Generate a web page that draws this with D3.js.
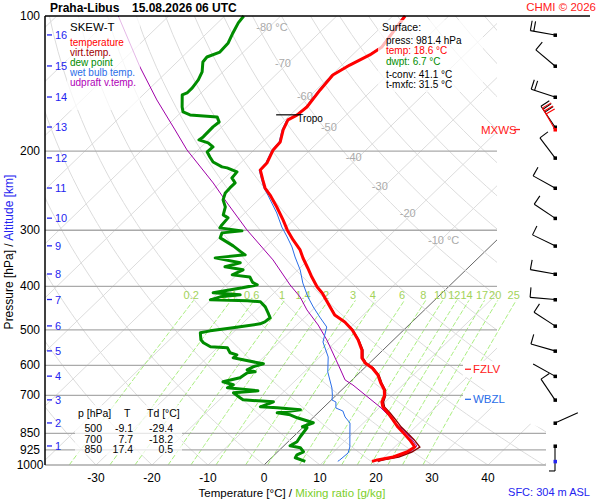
<!DOCTYPE html>
<html><head><meta charset="utf-8">
<script src="https://cdn.jsdelivr.net/npm/d3@7"></script>
<style>body{margin:0;background:#fff} svg{font-family:"Liberation Sans",Arial,sans-serif;display:block}</style>
</head><body><svg id="c" width="600" height="500"></svg>
<script>
// ---------- data ----------
const pressureTicks = [100,200,300,400,500,600,700,850,925,1000];
const tempTicks = [-30,-20,-10,0,10,20,30,40];
const altKm = [16,15,14,13,12,11,10,9,8,7,6,5,4,3,2,1];
const altP  = [110.2,129.2,151.5,176.7,207,241.6,282,325,375.5,428,490,557,634,716,806,907];
const mixW = [0.2,0.4,0.6,1,1.4,2,3,4,6,8,10,12,14,17,20,25];
const isoLabelT = [-80,-70,-60,-50,-40,-30,-20,-10];
const isoLabelP = [105.8,127.3,150.7,176.6,206.0,239.0,274.6,315.2];

const tempP = [100,117.2,122.1,128.6,135.3,146.1,159.5,166.2,170.4,179.4,190.8,198.7,212.5,220.2,231.8,241.6,250.5,266.3,284.5,299.5,315.3,331.9,345.9,364.1,381.4,401.4,413.9,444.7,463.4,480.3,500.2,526.5,554.2,577.6,592.6,608.1,630.3,656.8,680.4,700.7,723.9,742.7,765.7,793.6,823.2,850,879.3,911.8,935.5,959.8,974.3,981.4];
const tempT = [-57.8,-56.2,-56.9,-58.6,-59.8,-59.3,-58.5,-58.8,-59.5,-58.5,-56.8,-56.6,-55.3,-55.2,-52.9,-51.0,-48.8,-45.4,-41.9,-39.3,-36.4,-33.3,-31.3,-28.6,-26.2,-23.4,-21.4,-17.4,-15.1,-12.0,-9.2,-6.3,-3.8,-2.3,-0.8,1.4,3.7,5.7,7.6,8.7,9.4,10.5,12.5,14.7,16.9,19.1,21.4,23.6,23.1,21.6,19.3,18.6];
const virtT = [-57.8,-56.2,-56.9,-58.6,-59.8,-59.3,-58.5,-58.8,-59.5,-58.5,-56.8,-56.6,-55.3,-55.2,-52.9,-51.0,-48.8,-45.4,-41.9,-39.3,-36.4,-33.3,-31.3,-28.6,-26.2,-23.4,-21.4,-17.3,-15.0,-11.9,-9.1,-6.2,-3.6,-2.1,-0.6,1.6,3.9,5.9,7.8,8.9,9.7,10.8,12.9,15.2,17.5,19.8,22.2,24.5,24.0,22.6,20.4,19.7];

const dewP = [100,103.6,109.1,114.8,120.3,123.4,126.6,133.2,138.8,144.6,148.4,149.9,159.4,163.6,166.1,167.8,172.2,176.6,185.9,188.8,191.7,195.7,200.8,206.0,211.4,216.8,217.9,222.4,229.4,235.3,241.5,247.8,256.8,266.2,277.3,281.6,291.9,296.4,301.0,304.1,312.0,325.1,335.2,340.4,345.7,354.6,361.9,367.6,377.2,381.1,391.9,397.0,403.1,413.6,417.9,422.2,428.7,430.9,433.1,444.4,458.2,470.1,480.0,484.8,494.8,502.6,507.7,526.3,534.4,545.5,548.3,562.5,568.4,577.2,583.1,595.2,604.4,613.8,620.1,623.3,639.4,652.7,662.8,673.0,683.5,690.6,708.4,715.8,723.1,742.0,745.8,753.4,765.0,773.0,785.0,805.3,822.0,826.2,865.2,887.7,906.1,915.3,934.4,948.9,963.5,981.4];
const dewT = [-86.6,-86.3,-85.4,-84.4,-84.2,-85.6,-85.4,-83.7,-82.9,-82.5,-82.5,-83.0,-80.8,-79.7,-77.9,-72.7,-71.4,-71.6,-71.5,-71.7,-69.5,-67.9,-68.0,-66.6,-65.1,-62.6,-61.5,-59.0,-58.8,-57.3,-57.3,-57.2,-56.3,-54.6,-53.5,-52.1,-51.9,-51.7,-47.2,-50.4,-49.8,-46.0,-43.5,-42.2,-47.0,-41.6,-43.6,-39.8,-40.8,-37.3,-35.8,-34.5,-36.6,-40.9,-35.7,-38.9,-40.1,-33.3,-30.8,-29.0,-27.4,-26.1,-26.3,-26.8,-30.9,-34.4,-35.8,-34.4,-33.4,-31.4,-28.2,-26.8,-25.2,-25.3,-23.2,-18.8,-20.1,-20.6,-18.8,-20.0,-20.4,-22.7,-20.3,-20.8,-14.8,-18.8,-16.7,-15.8,-10.0,-11.4,-8.2,-3.7,-7.3,-4.6,-2.8,1.0,-0.2,0.8,1.25,1.6,1.1,3.3,4.6,4.0,4.25,6.7];

const wetP = [100,117.2,122.1,128.6,135.3,146.1,159.5,166.2,170.4,179.4,190.8,198.7,212.5,220.2,231.8,241.6,250.5,274.6,295.1,310.6,326.9,344.1,367.7,393.3,422.5,444.7,468.2,492.8,532.2,574.7,620.7,673.8,700.7,716.3,723.9,746.5,758.1,781.6,806.4,857.6,911.8,940.3,974.3,981.4];
const wetT = [-58.0,-56.4,-57.1,-58.8,-60.0,-59.5,-58.7,-59.0,-59.7,-58.7,-57.0,-56.8,-55.5,-55.4,-53.1,-51.2,-49.2,-44.3,-40.8,-38.0,-35.3,-32.9,-29.6,-26.7,-23.2,-20.4,-17.4,-14.3,-12.2,-8.5,-5.8,-2.1,-0.6,0.1,1.2,2.3,4.1,5.6,7.6,9.8,12.0,12.8,12.6,12.5];

const parcelP = [100,129.9,153.8,179.4,198.7,235.4,260.9,299.5,349.3,397.3,422.5,451.4,487.8,526.5,563.1,608.1,646.4,663.5,700.7,742.7,781.6,806.4,835.4,866.5,907.2,935.5,959.8,979.7];
const parcelT = [-109.0,-95.7,-86.6,-77.8,-72.0,-61.2,-55.0,-46.5,-36.3,-28.6,-24.6,-21.0,-16.2,-11.9,-8.4,-4.4,-1.25,1.1,5.4,10.0,13.6,15.6,18.4,20.9,23.8,23.7,22.1,19.6];

const windDir = [280,310,288,326,323,299,304,296,280,275,303,286,299,326,66,180];
const windSpd = [20,10,20,30,10,10,10,10,10,10,10,10,3,10,3,5];
const mxwsP = 179, mxwsDir = 330, mxwsSpd = 30;
const fzlvP = 612, wbzlP = 714;
const tropoP = 166, tropoT = -58.8;
const sfcP = 981.4;

const tableHead = ["p [hPa]","T","Td [°C]"];
const tableP  = ["500","700","850"];
const tableT  = ["-9.1","7.7","17.4"];
const tableTd = ["-29.4","-18.2","0.5"];
const sfcLines = ["press: 981.4 hPa","temp: 18.6 °C","dwpt: 6.7 °C","t-conv: 41.1 °C","t-mxfc: 31.5 °C"];

// ---------- scales ----------
const svg = d3.select('#c');
const y = d3.scaleLog().domain([100,1000]).range([16,465]);
const xs = d3.scaleLinear().domain([-40,50]).range([40,544]);
const SK = 1.035;
const X = (T,p) => xs(T) + SK*(y(1000)-y(p));

const defs = svg.append('defs');
defs.append('clipPath').attr('id','gc').append('polygon')
  .attr('points','45,16 497,16 497,410 546,430 546,465 45,465');
defs.append('clipPath').attr('id','rc').append('rect')
  .attr('x',45).attr('y',16).attr('width',501).attr('height',449);

const grid = svg.append('g').attr('clip-path','url(#gc)');
// isotherms
d3.range(-130,60,10).forEach(T=>{
  grid.append('line').attr('x1',X(T,1000)).attr('y1',y(1000)).attr('x2',X(T,100)).attr('y2',y(100))
    .attr('stroke', T===0 ? '#666' : '#dcdcdc').attr('stroke-width',1);
});
// dry adiabats
const pLevels = d3.range(1000,95,-10);
const adLine = d3.line().x(d=>d[0]).y(d=>d[1]);
d3.range(-40,190,10).forEach(th=>{
  const pts = pLevels.map(p=>{const T=(th+273.15)*Math.pow(p/1000,0.2857)-273.15; return [X(T,p),y(p)];});
  grid.append('path').attr('d',adLine(pts)).attr('fill','none').attr('stroke','#dcdcdc').attr('stroke-width',1);
});
// mixing ratio lines
const mixG = svg.append('g').attr('clip-path','url(#rc)');
const mrT = (w,p)=>{const e=w*p/(622+w); const l=Math.log(e/6.112); return 243.5*l/(17.67-l);};
mixW.forEach(w=>{
  const pts = d3.range(1000,429,-5).map(p=>[X(mrT(w,p),p),y(p)]);
  mixG.append('path').attr('d',adLine(pts)).attr('fill','none').attr('stroke','#a6ee7a')
    .attr('stroke-width',1).attr('stroke-dasharray','5,2');
  svg.append('text').attr('x',X(mrT(w,428),428)-3).attr('y',299).attr('text-anchor','middle')
    .attr('font-size',11).attr('fill','#a3d35a').text(w);
});
// isobars
pressureTicks.filter(p=>p>100).forEach(p=>{
  svg.append('line').attr('x1',45).attr('x2',p>=850?546:497).attr('y1',y(p)).attr('y2',y(p))
    .attr('stroke','#aaa').attr('stroke-width',1.3);
});
// isotherm labels
isoLabelT.forEach((T,i)=>{
  const p=isoLabelP[i];
  svg.append('text').attr('x',X(T,p)-13).attr('y',y(p)+4).attr('font-size',11).attr('fill','#aaa')
    .text(T + ((i===0||i===isoLabelT.length-1)?' °C':''));
});

// ---------- profiles ----------
const prof = (P,T) => P.map((p,i)=>({p:p,T:T[i]}));
const line = d3.line().x(d=>X(d.T,d.p)).y(d=>y(d.p));
svg.append('path').attr('d',line(prof(parcelP,parcelT))).attr('fill','none').attr('stroke','#a000a8').attr('stroke-width',1);
svg.append('path').attr('d',line(prof(tempP,virtT))).attr('fill','none').attr('stroke','#8b0000').attr('stroke-width',1.4);
svg.append('path').attr('d',line(prof(wetP,wetT))).attr('fill','none').attr('stroke','#2a6ee8').attr('stroke-width',1);
svg.append('path').attr('d',line(prof(dewP,dewT))).attr('fill','none').attr('stroke','#008c00').attr('stroke-width',3).attr('stroke-linejoin','round');
svg.append('path').attr('d',line(prof(tempP,tempT))).attr('fill','none').attr('stroke','#ff0000').attr('stroke-width',3).attr('stroke-linejoin','round');

// tropopause
const tx = X(tropoT,tropoP);
svg.append('line').attr('x1',tx-21).attr('x2',tx+3).attr('y1',y(tropoP)).attr('y2',y(tropoP)).attr('stroke','#000').attr('stroke-width',1.2);
svg.append('text').attr('x',tx).attr('y',y(tropoP)+7).attr('font-size',10).attr('fill','#000').text('Tropo');

// ---------- axes ----------
svg.append('line').attr('x1',45).attr('x2',590).attr('y1',16).attr('y2',16).attr('stroke','#000').attr('stroke-width',1.3);
svg.append('line').attr('x1',45).attr('x2',45).attr('y1',16).attr('y2',465).attr('stroke','#000').attr('stroke-width',1.5);
pressureTicks.forEach(p=>{
  svg.append('text').attr('x',30).attr('y',y(p)+4).attr('text-anchor','middle').attr('font-size',12).attr('fill','#000').text(p);
});
tempTicks.forEach(T=>{
  svg.append('text').attr('x',xs(T)).attr('y',482).attr('text-anchor','middle').attr('font-size',12).attr('fill','#000').text(T);
});
altKm.forEach((k,i)=>{
  const yy=y(altP[i]);
  svg.append('line').attr('x1',47).attr('x2',52).attr('y1',yy).attr('y2',yy).attr('stroke','#2424f0').attr('stroke-width',1.3);
  svg.append('text').attr('x',55).attr('y',yy+4).attr('font-size',11).attr('fill','#2424f0').text(k);
});
const bt = svg.append('text').attr('x',292).attr('y',497).attr('text-anchor','middle').attr('font-size',11.5);
bt.append('tspan').attr('fill','#000').text('Temperature [°C]  /  ');
bt.append('tspan').attr('fill','#7ccf2a').text('Mixing ratio [g/kg]');
const lt = svg.append('text').attr('transform','translate(13,252) rotate(-90)').attr('text-anchor','middle').attr('font-size',12);
lt.append('tspan').attr('fill','#000').text('Pressure [hPa]  /  ');
lt.append('tspan').attr('fill','#2424f0').text('Altitude [km]');

// ---------- title ----------
svg.append('text').attr('x',50).attr('y',12).attr('font-size',12).attr('font-weight','bold').text('Praha-Libus');
svg.append('text').attr('x',132).attr('y',12).attr('font-size',12).attr('font-weight','bold').text('15.08.2026 06 UTC');
svg.append('text').attr('x',596).attr('y',11).attr('text-anchor','end').attr('font-size',11.5).attr('fill','#ff2020').text('CHMI © 2026');
svg.append('text').attr('x',590).attr('y',496).attr('text-anchor','end').attr('font-size',11).attr('fill','#2424f0').text('SFC: 304 m ASL');

// ---------- boxes ----------
const box=(x,yy,w,h)=>svg.append('rect').attr('x',x).attr('y',yy).attr('width',w).attr('height',h).attr('fill','#fff').attr('opacity',0.72);
box(67,17,73,93);
const legItems=[['temperature','#ff0000'],['virt.temp.','#a00000'],['dew point','#008c00'],['wet bulb temp.','#2a6ee8'],['udpraft v.temp.','#b000b8']];
svg.append('text').attr('x',70).attr('y',31).attr('font-size',11.5).attr('fill','#000').text('SKEW-T');
legItems.forEach((d,i)=>svg.append('text').attr('x',70).attr('y',45.5+i*10.2).attr('font-size',10).attr('fill',d[1]).text(d[0]));

box(378,20,105,72);
svg.append('text').attr('x',382).attr('y',31).attr('font-size',10.5).text('Surface:');
const sfcCol=['#000','#ff0000','#008c00','#000','#000'];
const sfcY=[44,54.4,64.8,78,88.4];
sfcLines.forEach((t,i)=>svg.append('text').attr('x',386).attr('y',sfcY[i]).attr('font-size',10).attr('fill',sfcCol[i]).text(t));

box(75,405,107,50);
svg.append('text').attr('x',78).attr('y',417).attr('font-size',10.5).text(tableHead[0]);
svg.append('text').attr('x',124).attr('y',417).attr('font-size',10.5).text(tableHead[1]);
svg.append('text').attr('x',147).attr('y',417).attr('font-size',10.5).text(tableHead[2]);
tableP.forEach((p,i)=>{
  const yy=432+i*10.5;
  svg.append('text').attr('x',102).attr('y',yy).attr('text-anchor','end').attr('font-size',10.5).text(p);
  svg.append('text').attr('x',133).attr('y',yy).attr('text-anchor','end').attr('font-size',10.5).text(tableT[i]);
  svg.append('text').attr('x',173).attr('y',yy).attr('text-anchor','end').attr('font-size',10.5).text(tableTd[i]);
});

// level labels
const lvl=(p,txt,col)=>{
  const yy=y(p);
  svg.append('rect').attr('x',463).attr('y',yy-8).attr('width',45).attr('height',16).attr('fill','#fff');
  svg.append('line').attr('x1',465).attr('x2',471).attr('y1',yy).attr('y2',yy).attr('stroke',col).attr('stroke-width',1.3);
  svg.append('text').attr('x',473).attr('y',yy+4).attr('font-size',11.5).attr('fill',col).text(txt);
};
lvl(fzlvP,'FZLV','#ff2020');
lvl(wbzlP,'WBZL','#2a6ee8');
svg.append('text').attr('x',481).attr('y',y(mxwsP)+4).attr('font-size',11.5).attr('fill','#ff2020').text('MXWS');
svg.append('line').attr('x1',514).attr('x2',520).attr('y1',y(mxwsP)).attr('y2',y(mxwsP)).attr('stroke','#ff2020').attr('stroke-width',1.3);

// ---------- wind barbs ----------
const BX=555;
function barb(p,dir,spd,col){
  const y0=y(p), r=dir*Math.PI/180;
  const ux=Math.sin(r), uy=-Math.cos(r);
  const px=-uy, py=ux;
  const ex=BX+25*ux, ey=y0+25*uy;
  const g=svg.append('g').attr('stroke',col).attr('stroke-width',1.1).attr('fill','none');
  g.append('line').attr('x1',BX).attr('y1',y0).attr('x2',ex).attr('y2',ey);
  const full=Math.floor(spd/10), half=(spd%10)>=5;
  for(let i=0;i<full;i++){
    const bx=ex-i*3.5*ux, by=ey-i*3.5*uy;
    g.append('line').attr('x1',bx).attr('y1',by).attr('x2',bx+10*px).attr('y2',by+10*py);
  }
  if(half){
    const bx=ex-full*3.5*ux, by=ey-full*3.5*uy;
    g.append('line').attr('x1',bx).attr('y1',by).attr('x2',bx+6*px).attr('y2',by+6*py);
  }
  svg.append('rect').attr('x',BX-1.5).attr('y',y0-1.5).attr('width',3.5).attr('height',3.5).attr('fill',col);
}
altP.forEach((p,i)=>barb(p,windDir[i],windSpd[i],'#000'));
barb(mxwsP,mxwsDir,mxwsSpd,'#ff0000');
svg.append('rect').attr('x',BX-1.5).attr('y',y(sfcP)-1.5).attr('width',3.5).attr('height',3.5).attr('fill','#2424f0');
</script></body></html>
